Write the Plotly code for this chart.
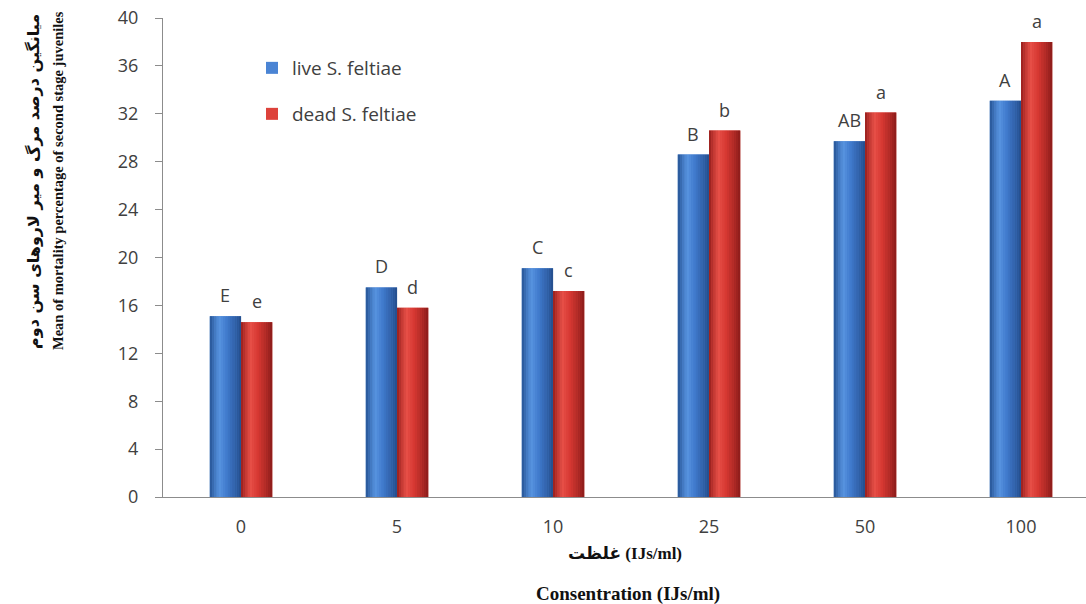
import plotly.graph_objects as go

# Concentrations (IJs/ml) and mean mortality (%) of second stage juveniles
concentrations = ["0", "5", "10", "25", "50", "100"]
live_values = [15.1, 17.5, 19.1, 28.6, 29.7, 33.1]
dead_values = [14.6, 15.8, 17.2, 30.6, 32.1, 38.0]
live_letters = ["E", "D", "C", "B", "AB", "A"]
dead_letters = ["e", "d", "c", "b", "a", "a"]
y_ticks = [0, 4, 8, 12, 16, 20, 24, 28, 32, 36, 40]

W, H = 1086, 604
ML, MR, MT, MB = 163, 0, 18, 107
CAT_PX = 156.0
plot_w = W - ML - MR
x_range = [-0.5, -0.5 + plot_w / CAT_PX]
BAR_W = 0.2

TEXT = "#404040"
AXIS = "#8c8c8c"

# shading stops across a bar (left edge -> right edge) for a cylinder look
BLUE_STOPS = [(0.0, (38, 84, 150)), (0.3, (88, 148, 224)), (0.55, (64, 122, 204)),
              (1.0, (36, 78, 140))]
RED_STOPS = [(0.0, (150, 30, 28)), (0.3, (232, 80, 72)), (0.55, (214, 56, 50)),
             (1.0, (140, 28, 26))]


def shade(stops, t):
    for (t0, c0), (t1, c1) in zip(stops[:-1], stops[1:]):
        if t0 <= t <= t1:
            f = (t - t0) / (t1 - t0)
            c = [round(a + (b - a) * f) for a, b in zip(c0, c1)]
            return f"rgb({c[0]},{c[1]},{c[2]})"
    c = stops[-1][1]
    return f"rgb({c[0]},{c[1]},{c[2]})"


fig = go.Figure()

series = [
    ("live S. feltiae", live_values, -BAR_W, BLUE_STOPS, "legend"),
    ("dead S. feltiae", dead_values, 0.0, RED_STOPS, "legend2"),
]

N_STRIPS = 14
for name, vals, off, stops, leg in series:
    fig.add_trace(go.Bar(
        x=concentrations, y=vals, name=name, offset=off, width=BAR_W,
        marker=dict(color=shade(stops, 0.45), line=dict(width=0)),
        legend=leg, hoverinfo="x+y+name",
    ))
    sw = BAR_W / N_STRIPS
    for i in range(N_STRIPS):
        t = (i + 0.5) / N_STRIPS
        fig.add_trace(go.Bar(
            x=concentrations, y=vals, offset=off + i * sw, width=sw * 1.05,
            marker=dict(color=shade(stops, t), line=dict(width=0)),
            showlegend=False, hoverinfo="skip",
        ))

# significance letters above each bar (x given as category index)
bar_px = BAR_W * CAT_PX
letter_font = dict(family="Open Sans", size=18, color=TEXT)
for idx, (v, lab) in enumerate(zip(live_values, live_letters)):
    fig.add_annotation(x=idx, y=v, text=lab, showarrow=False, xshift=-bar_px / 2,
                       yshift=21, yanchor="middle", font=letter_font)
for idx, (v, lab) in enumerate(zip(dead_values, dead_letters)):
    fig.add_annotation(x=idx, y=v, text=lab, showarrow=False, xshift=bar_px / 2,
                       yshift=21, yanchor="middle", font=letter_font)

plot_h = H - MT - MB


def px_x(p):
    return (p - ML) / plot_w


def px_y(p):
    return (H - MB - p) / plot_h


# y axis titles (Persian and English)
fig.add_annotation(xref="paper", yref="paper", x=px_x(33), y=px_y(182),
                   text="<b>میانگین درصد مرگ و میر لاروهای سن دوم</b>",
                   textangle=-90, showarrow=False, xanchor="center", yanchor="middle",
                   font=dict(family="DejaVu Sans", size=16, color="#111111"))
fig.add_annotation(xref="paper", yref="paper", x=px_x(58), y=px_y(181),
                   text="<b>Mean of mortality percentage of second stage juveniles</b>",
                   textangle=-90, showarrow=False, xanchor="center", yanchor="middle",
                   font=dict(family="Liberation Serif", size=14.5, color="#111111"))

# x axis titles
fig.add_annotation(xref="paper", yref="paper", x=px_x(625), y=px_y(553),
                   text="<b>غلظت (IJs/ml)</b>", showarrow=False,
                   xanchor="center", yanchor="middle",
                   font=dict(family="Liberation Serif, DejaVu Sans", size=17,
                             color="#111111"))
fig.add_annotation(xref="paper", yref="paper", x=px_x(628), y=px_y(594),
                   text="<b>Consentration (IJs/ml)</b>", showarrow=False,
                   xanchor="center", yanchor="middle",
                   font=dict(family="Liberation Serif", size=19, color="#111111"))

legend_font = dict(family="Open Sans", size=19, color=TEXT)
fig.update_layout(
    width=W, height=H,
    margin=dict(l=ML, r=MR, t=MT, b=MB, pad=0, autoexpand=False),
    paper_bgcolor="white", plot_bgcolor="white",
    barmode="overlay",
    showlegend=True,
    legend=dict(xref="container", yref="container", x=252 / W, y=1 - 68 / H,
                xanchor="left", yanchor="middle", font=legend_font,
                bgcolor="rgba(0,0,0,0)"),
    legend2=dict(xref="container", yref="container", x=252 / W, y=1 - 114 / H,
                 xanchor="left", yanchor="middle", font=legend_font,
                 bgcolor="rgba(0,0,0,0)"),
    xaxis=dict(
        type="category", categoryorder="array", categoryarray=concentrations,
        range=x_range, showline=True, linecolor=AXIS, linewidth=1,
        ticks="", showgrid=False, zeroline=False,
        tickfont=dict(family="Open Sans", size=18, color=TEXT),
        ticklabelstandoff=13,
    ),
    yaxis=dict(
        range=[0, 40], tickvals=y_ticks, showline=True, linecolor=AXIS, linewidth=1,
        ticks="outside", ticklen=7, tickcolor=AXIS, showgrid=False, zeroline=False,
        tickfont=dict(family="Open Sans", size=18, color=TEXT),
        ticklabelstandoff=13,
    ),
)

fig.write_html("out.html")
